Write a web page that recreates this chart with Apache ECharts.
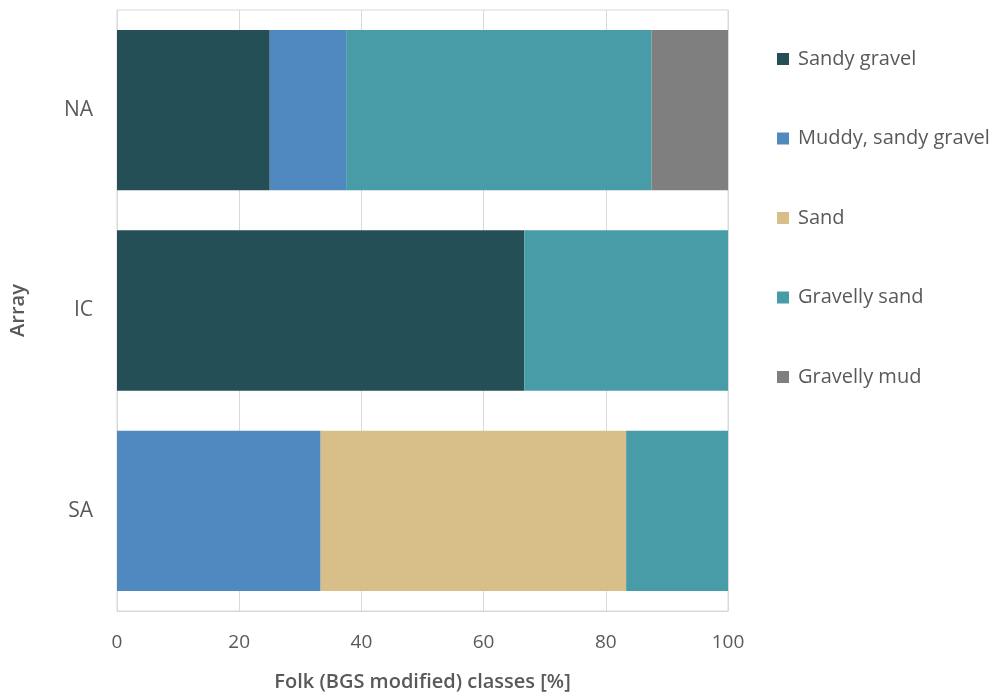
<!DOCTYPE html>
<html>
<head>
<meta charset="utf-8">
<script src="https://cdn.jsdelivr.net/npm/echarts@6/dist/echarts.min.js"></script>
<style>html,body{margin:0;padding:0;background:#fff}#c{width:999px;height:697px}</style>
</head>
<body>
<div id="c"></div>
<script>
const categories = ['NA', 'IC', 'SA'];
const seriesNames = ['Sandy gravel', 'Muddy, sandy gravel', 'Sand', 'Gravelly sand', 'Gravelly mud'];
const sandyGravel = [25, 66.67, 0];
const muddySandyGravel = [12.5, 0, 33.33];
const sand = [0, 0, 50];
const gravellySand = [50, 33.33, 16.67];
const gravellyMud = [12.5, 0, 0];
const xTicks = [0, 20, 40, 60, 80, 100];
const colors = ['#244f56', '#5089c0', '#d8be89', '#479ca8', '#7f7f7f'];

const values = [sandyGravel, muddySandyGravel, sand, gravellySand, gravellyMud];
const font = '"Open Sans", "Noto Sans", sans-serif';
const chart = echarts.init(document.getElementById('c'), null, {renderer: 'canvas'});
chart.setOption({
  animation: false,
  color: colors,
  grid: {left: 117, right: 271, top: 10, bottom: 82, show: true, borderColor: '#d9d9d9', borderWidth: 1, containLabel: false},
  legend: {
    orient: 'vertical', left: 772, top: 44, itemWidth: 12, itemHeight: 12, itemGap: 59.5,
    icon: 'rect',
    textStyle: {fontFamily: font, fontSize: 20, color: '#595959', padding: [0, 0, 0, 4]},
    data: seriesNames
  },
  xAxis: {
    type: 'value', min: xTicks[0], max: xTicks[xTicks.length - 1], interval: 20,
    name: 'Folk (BGS modified) classes [%]', nameLocation: 'middle', nameGap: 61,
    nameTextStyle: {fontFamily: font, fontSize: 20, fontWeight: 600, color: '#595959'},
    axisLine: {show: true, lineStyle: {color: '#d9d9d9'}},
    axisTick: {show: false},
    axisLabel: {fontFamily: font, fontSize: 19, color: '#595959', margin: 22},
    splitLine: {show: true, lineStyle: {color: '#d9d9d9', width: 1}}
  },
  yAxis: {
    type: 'category', data: categories, inverse: true,
    name: 'Array', nameLocation: 'middle', nameGap: 89, nameRotate: 90,
    nameTextStyle: {fontFamily: font, fontSize: 20, fontWeight: 600, color: '#595959'},
    axisLine: {show: true, lineStyle: {color: '#d9d9d9'}},
    axisTick: {show: false},
    axisLabel: {fontFamily: font, fontSize: 21, color: '#595959', margin: 24}
  },
  series: seriesNames.map((n, i) => ({
    name: n, type: 'bar', stack: 'total', barCategoryGap: '20%',
    data: values[i], itemStyle: {color: colors[i]}
  }))
});
</script>
</body>
</html>
